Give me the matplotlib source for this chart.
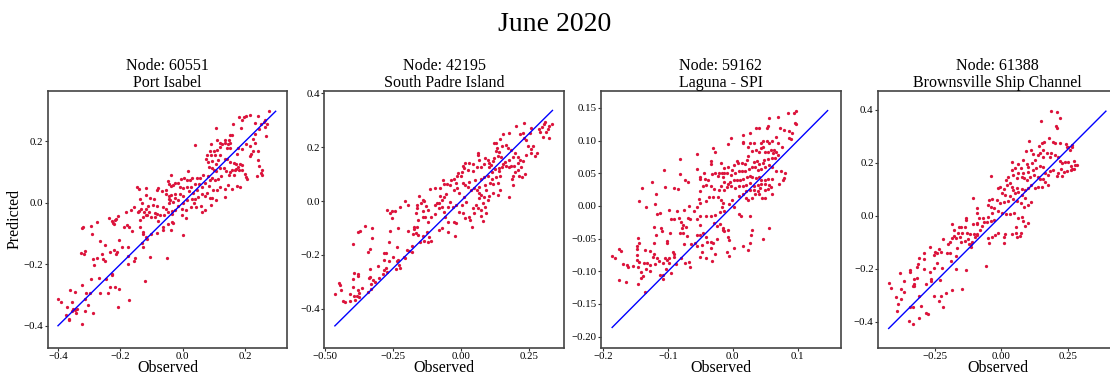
import matplotlib
matplotlib.use('Agg')
import matplotlib.pyplot as plt
from matplotlib.ticker import MultipleLocator

plt.rcParams['font.family'] = ['Liberation Serif', 'DejaVu Serif']

month_title = 'June 2020'
node_ids = ['60551', '42195', '59162', '61388']
node_names = ['Port Isabel', 'South Padre Island', 'Laguna - SPI', 'Brownsville Ship Channel']

# observed / predicted values
obs_60551 = [
    -0.037, -0.047, -0.045, -0.037, -0.147, -0.139, -0.118, -0.083, -0.079, -0.055,
    -0.067, -0.053, -0.045, -0.037, -0.138, -0.118, -0.104, -0.092, -0.043, -0.132,
    -0.112, -0.094, -0.081, -0.063, -0.053, -0.045, -0.040, -0.157, -0.165, -0.183,
    -0.143, -0.134, -0.118, -0.124, -0.108, -0.088, -0.082, -0.073, -0.061, -0.047,
    -0.035, -0.236, -0.206, -0.213, -0.216, -0.224, -0.226, -0.219, -0.179, -0.172,
    -0.189, -0.163, -0.140, -0.137, -0.126, -0.119, -0.113, -0.101, -0.088, -0.079,
    -0.064, -0.062, -0.047, -0.039, -0.035, -0.136, -0.128, -0.126, -0.119, -0.113,
    -0.103, -0.084, -0.320, -0.322, -0.293, -0.275, -0.292, -0.266, -0.250, -0.203,
    -0.132, -0.126, -0.219, -0.196, -0.175, -0.210, -0.232, -0.258, -0.215, -0.312,
    -0.325, -0.316, -0.176, -0.153, -0.104, -0.050, -0.288, -0.275, -0.256, -0.250,
    -0.157, -0.176, -0.283, -0.226, -0.228, -0.294, -0.268, -0.245, -0.120, -0.323,
    -0.360, -0.344, -0.309, -0.298, -0.264, -0.234, -0.218, -0.203, -0.239, -0.312,
    -0.400, -0.389, -0.355, -0.305, -0.371, -0.353, -0.345, -0.339, -0.356, -0.341,
    -0.172, -0.207, -0.313, -0.287, -0.375, -0.366, -0.364, -0.323,
    0.278, 0.203, 0.216, 0.198, 0.241, 0.181, 0.191, 0.264, 0.260, 0.250,
    0.233, 0.270, 0.160, 0.106, 0.186, 0.264, 0.246, 0.232, 0.267, 0.159,
    0.150, 0.147, 0.134, 0.110, 0.092, 0.121, 0.126, 0.134, 0.145, 0.152,
    0.224, 0.232, 0.039, 0.203, 0.216, 0.225, 0.240, 0.218, 0.217, 0.191,
    0.176, 0.173, 0.150, 0.141, 0.120, 0.111, 0.099, 0.087, 0.077, 0.074,
    0.090, 0.102, 0.120, 0.136, 0.142, 0.153, 0.163, 0.171, 0.176, 0.185,
    0.190, 0.181, 0.168, 0.157, 0.153, 0.163, 0.172, 0.189, 0.200, 0.203,
    0.207, 0.240, 0.245, 0.253, 0.252, 0.253, 0.239, 0.114, 0.106, 0.094,
    0.080, 0.084, 0.095, 0.099, 0.108, 0.120, 0.132, 0.140, 0.147, 0.123,
    0.114, 0.104, 0.094, 0.086, 0.081, 0.064, 0.056, 0.046, 0.031, 0.024,
    0.013, 0.004, -0.005, 0.018, -0.014, -0.025, -0.030, -0.010, 0.000, 0.015,
    0.028, 0.040, 0.053, 0.063, 0.072, 0.083, 0.096, 0.109, 0.120, 0.137,
    0.145, 0.157, 0.173, 0.184, -0.026, -0.010, 0.002, 0.019, 0.033, 0.047,
    0.061, 0.072, 0.086, 0.095, 0.078, 0.049, 0.040, 0.029, 0.015, 0.002,
    -0.014, -0.025, -0.032, -0.016, -0.001, 0.010, 0.027, 0.043, 0.057, 0.061,
    0.073, 0.090, 0.107, 0.136, 0.037, -0.025, -0.033, -0.003, 0.009, -0.030,
    0.000,
]
pred_60551 = [
    0.092, 0.072, 0.060, 0.054, 0.053, 0.046, 0.048, 0.043, 0.047, 0.043,
    0.037, 0.030, 0.022, 0.025, 0.012, 0.027, 0.017, 0.011, 0.011, -0.002,
    -0.011, -0.007, -0.011, -0.015, -0.021, -0.002, 0.009, -0.015, -0.024, -0.030,
    -0.029, -0.021, -0.021, -0.031, -0.031, -0.034, -0.035, -0.040, -0.040, -0.031,
    -0.026, -0.048, -0.043, -0.051, -0.056, -0.065, -0.059, -0.069, -0.073, -0.078,
    -0.080, -0.092, -0.027, -0.056, -0.046, -0.040, -0.040, -0.047, -0.047, -0.060,
    -0.078, -0.089, -0.069, -0.089, -0.062, -0.080, -0.094, -0.102, -0.111, -0.118,
    -0.100, -0.098, -0.078, -0.083, -0.076, -0.063, -0.100, -0.124, -0.136, -0.120,
    -0.132, -0.145, -0.152, -0.145, -0.143, -0.159, -0.160, -0.165, -0.168, -0.156,
    -0.162, -0.167, -0.172, -0.178, -0.175, -0.181, -0.182, -0.181, -0.182, -0.189,
    -0.190, -0.199, -0.203, -0.232, -0.236, -0.247, -0.246, -0.249, -0.256, -0.268,
    -0.284, -0.291, -0.292, -0.292, -0.293, -0.273, -0.274, -0.282, -0.295, -0.313,
    -0.314, -0.322, -0.324, -0.333, -0.340, -0.347, -0.349, -0.346, -0.352, -0.358,
    -0.317, -0.338, -0.353, -0.357, -0.365, -0.382, -0.379, -0.395,
    0.298, 0.284, 0.287, 0.280, 0.284, 0.280, 0.271, 0.271, 0.263, 0.258,
    0.260, 0.255, 0.258, 0.245, 0.243, 0.247, 0.241, 0.225, 0.217, 0.220,
    0.221, 0.206, 0.206, 0.206, 0.193, 0.195, 0.193, 0.195, 0.190, 0.196,
    0.209, 0.194, 0.188, 0.193, 0.184, 0.168, 0.169, 0.160, 0.152, 0.175,
    0.179, 0.160, 0.177, 0.177, 0.182, 0.173, 0.169, 0.170, 0.157, 0.144,
    0.155, 0.157, 0.155, 0.144, 0.142, 0.134, 0.130, 0.126, 0.118, 0.126,
    0.122, 0.108, 0.106, 0.106, 0.099, 0.092, 0.109, 0.108, 0.095, 0.085,
    0.076, 0.139, 0.119, 0.106, 0.098, 0.090, 0.088, 0.139, 0.128, 0.136,
    0.133, 0.117, 0.112, 0.106, 0.103, 0.114, 0.115, 0.103, 0.092, 0.087,
    0.079, 0.074, 0.082, 0.074, 0.087, 0.090, 0.082, 0.082, 0.082, 0.074,
    0.074, 0.082, 0.076, 0.104, 0.065, 0.065, 0.057, 0.052, 0.047, 0.052,
    0.052, 0.061, 0.061, 0.052, 0.063, 0.054, 0.043, 0.041, 0.052, 0.046,
    0.059, 0.046, 0.054, 0.050, 0.030, 0.028, 0.022, 0.039, 0.033, 0.041,
    0.030, 0.022, 0.017, 0.017, 0.033, 0.020, 0.014, 0.011, 0.009, -0.002,
    0.009, 0.017, 0.003, -0.011, -0.020, -0.022, -0.013, -0.015, -0.011, -0.029,
    -0.024, -0.008, 0.009, 0.020, 0.000, -0.024, -0.037, -0.038, -0.049, -0.065,
    -0.105,
]

obs_42195 = [
    -0.066, -0.061, -0.051, -0.078, -0.097, -0.115, -0.153, -0.139, -0.135, -0.206,
    -0.196, -0.224, -0.163, -0.162, -0.146, -0.127, -0.122, -0.139, -0.094, -0.088,
    -0.080, -0.069, -0.071, -0.082, -0.076, -0.064, -0.054, -0.049, -0.061, -0.272,
    -0.262, -0.253, -0.244, -0.253, -0.165, -0.141, -0.131, -0.110, -0.158, -0.121,
    -0.097, -0.058, -0.046, -0.351, -0.325, -0.377, -0.370, -0.232, -0.259, -0.195,
    -0.171, -0.162, -0.174, -0.166, -0.176, -0.158, -0.139, -0.125, -0.116, -0.110,
    -0.121, -0.135, -0.150, -0.082, -0.071, -0.049, -0.325, -0.396, -0.333, -0.340,
    -0.281, -0.274, -0.264, -0.236, -0.180, -0.191, -0.199, -0.181, -0.208, -0.206,
    -0.250, -0.264, -0.283, -0.231, -0.236, -0.223, -0.228, -0.240, -0.306, -0.335,
    -0.392, -0.378, -0.377, -0.284, -0.274, -0.273, -0.288, -0.302, -0.323, -0.339,
    -0.335, -0.398, -0.362, -0.378, -0.376, -0.395, -0.448, -0.445, -0.439, -0.463,
    -0.330, -0.329, -0.316, -0.341, -0.394, -0.383, -0.373, -0.390, -0.406, -0.432,
    -0.427, -0.408,
    0.310, 0.336, 0.325, 0.319, 0.306, 0.297, 0.288, 0.291, 0.312, 0.322,
    0.300, 0.231, 0.201, 0.257, 0.252, 0.226, 0.230, 0.218, 0.239, 0.248,
    0.266, 0.257, 0.280, 0.273, 0.257, 0.239, 0.226, 0.217, 0.177, 0.155,
    0.143, 0.120, 0.127, 0.150, 0.165, 0.173, 0.184, 0.198, 0.208, 0.190,
    0.177, 0.163, 0.153, 0.141, 0.150, 0.165, 0.175, 0.184, 0.196, 0.210,
    0.221, 0.208, 0.199, 0.192, 0.212, 0.223, 0.236, 0.186, 0.192, 0.177,
    0.132, 0.128, 0.141, 0.135, 0.147, 0.122, 0.116, 0.110, 0.098, 0.102,
    0.087, 0.067, 0.061, 0.064, 0.045, 0.031, 0.016, 0.006, 0.012, -0.012,
    -0.015, 0.004, 0.024, 0.043, 0.058, 0.073, 0.086, 0.104, 0.114, 0.126,
    0.138, 0.143, 0.128, 0.114, 0.108, 0.116, 0.135, 0.143, 0.135, 0.116,
    0.104, 0.098, 0.086, 0.073, 0.065, 0.058, 0.067, 0.049, 0.037, 0.024,
    0.016, 0.031, 0.053, 0.073, 0.086, 0.100, 0.089, 0.092, -0.040, -0.024,
    -0.015, -0.006, 0.010, 0.018, 0.004, -0.018, -0.040, -0.031, -0.009, 0.009,
    0.031, 0.045, 0.055, 0.067, 0.080, 0.088, 0.073, 0.061, 0.073, 0.080,
    0.092, 0.049, 0.013, 0.034, 0.040, -0.024, -0.018, -0.021, -0.018, -0.024,
    -0.037, 0.000, 0.006,
]
pred_42195 = [
    0.078, 0.062, 0.062, 0.047, 0.047, 0.045, 0.019, 0.004, 0.000, 0.000,
    -0.016, -0.023, -0.015, -0.027, -0.006, -0.019, -0.033, -0.036, -0.015, -0.009,
    -0.009, 0.004, -0.021, -0.025, 0.019, 0.014, 0.026, -0.021, -0.040, -0.033,
    -0.043, -0.036, -0.036, -0.062, -0.043, -0.058, -0.058, -0.061, -0.070, -0.077,
    -0.049, -0.058, -0.077, -0.093, -0.099, -0.114, -0.111, -0.099, -0.110, -0.110,
    -0.098, -0.098, -0.105, -0.117, -0.122, -0.127, -0.130, -0.114, -0.132, -0.147,
    -0.151, -0.147, -0.151, -0.108, -0.100, -0.114, -0.138, -0.158, -0.178, -0.190,
    -0.192, -0.194, -0.151, -0.169, -0.166, -0.185, -0.183, -0.188, -0.206, -0.213,
    -0.206, -0.221, -0.219, -0.219, -0.221, -0.250, -0.237, -0.251, -0.240, -0.252,
    -0.267, -0.270, -0.278, -0.256, -0.250, -0.262, -0.272, -0.287, -0.293, -0.287,
    -0.281, -0.291, -0.321, -0.330, -0.340, -0.318, -0.305, -0.312, -0.330, -0.343,
    -0.308, -0.328, -0.300, -0.336, -0.351, -0.351, -0.355, -0.367, -0.370, -0.370,
    -0.376, -0.343,
    0.294, 0.284, 0.278, 0.266, 0.284, 0.276, 0.266, 0.257, 0.257, 0.235,
    0.239, 0.288, 0.278, 0.272, 0.253, 0.251, 0.232, 0.247, 0.226, 0.204,
    0.204, 0.192, 0.179, 0.167, 0.177, 0.171, 0.148, 0.152, 0.253, 0.249,
    0.229, 0.216, 0.216, 0.204, 0.208, 0.195, 0.189, 0.177, 0.164, 0.164,
    0.152, 0.146, 0.137, 0.121, 0.125, 0.130, 0.127, 0.131, 0.130, 0.142,
    0.125, 0.115, 0.106, 0.093, 0.093, 0.088, 0.100, 0.080, 0.059, 0.014,
    0.198, 0.187, 0.183, 0.167, 0.164, 0.158, 0.147, 0.134, 0.152, 0.142,
    0.158, 0.152, 0.171, 0.177, 0.137, 0.142, 0.140, 0.130, 0.121, 0.103,
    0.093, 0.109, 0.115, 0.113, 0.127, 0.127, 0.137, 0.127, 0.109, 0.117,
    0.111, 0.093, 0.090, 0.080, 0.066, 0.063, 0.066, 0.041, 0.022, 0.028,
    0.019, 0.004, 0.014, 0.022, 0.053, 0.041, 0.031, 0.047, 0.041, 0.053,
    0.059, 0.072, 0.078, 0.080, 0.090, 0.093, 0.059, 0.041, 0.059, 0.041,
    0.047, 0.028, 0.016, -0.002, -0.015, -0.015, -0.002, -0.021, -0.040, -0.046,
    -0.058, -0.027, -0.015, 0.010, -0.009, -0.021, -0.033, -0.027, -0.056, -0.074,
    -0.043, -0.046, -0.064, -0.070, -0.095, -0.077, -0.083, -0.129, 0.066, 0.080,
    0.078, 0.093, 0.066,
]

obs_59162 = [
    -0.031, -0.027, -0.056, -0.082, -0.034, -0.033, -0.018, -0.014, -0.056, -0.106,
    -0.045, -0.032, -0.027, -0.021, -0.023, -0.017, -0.013, -0.051, -0.050, -0.081,
    -0.074, -0.069, -0.015, -0.014, -0.039, -0.043, -0.125, -0.140, -0.105, -0.091,
    -0.084, -0.051, -0.046, -0.041, -0.034, -0.029, -0.021, -0.018, -0.013, -0.118,
    -0.145, -0.134, -0.120, -0.099, -0.086, -0.075, -0.068, -0.056, -0.052, -0.050,
    -0.041, -0.036, -0.030, -0.023, -0.018, -0.015, -0.060, -0.051, -0.042, -0.034,
    -0.027, -0.020, -0.016, -0.014, -0.095, -0.091, -0.117, -0.113, -0.083, -0.069,
    -0.066, -0.080, -0.077, -0.079, -0.072, -0.056, -0.051, -0.029, -0.025, -0.020,
    -0.015, -0.013, -0.121, -0.111, -0.109, -0.118, -0.146, -0.144, -0.148, -0.148,
    -0.121, -0.102, -0.102, -0.097, -0.081, -0.077, -0.070, -0.075, -0.064, -0.059,
    -0.056, -0.048, -0.055, -0.050, -0.046, -0.042, -0.040, -0.034, -0.031, -0.033,
    -0.027, -0.024, -0.050, -0.042, -0.048, -0.176, -0.172, -0.186, -0.182, -0.147,
    -0.136, -0.127, -0.122, -0.123, -0.117, -0.092, -0.090, -0.090, -0.080, -0.074,
    -0.067, -0.066, -0.099, -0.098, -0.101, -0.105, -0.108, -0.114, -0.120, -0.128,
    -0.132, -0.137, -0.144, -0.148, -0.163, -0.169, -0.161, -0.154, -0.146, -0.142,
    -0.134, -0.128, -0.095, -0.088, -0.103, -0.107, -0.113, -0.108, -0.138, -0.142,
    -0.146, -0.176, -0.164, -0.135, -0.032, -0.015,
    0.098, 0.094, 0.085, 0.098, 0.095, 0.070, 0.056, 0.054, 0.052, 0.072,
    0.079, 0.086, 0.091, 0.087, 0.090, 0.036, 0.041, 0.027, 0.016, 0.016,
    0.015, 0.027, 0.033, 0.046, 0.044, 0.052, 0.055, 0.060, 0.067, 0.070,
    0.076, -0.003, -0.008, 0.023, 0.029, 0.036, 0.040, 0.043, 0.047, 0.050,
    0.054, 0.058, 0.062, 0.063, 0.067, 0.069, 0.065, 0.060, 0.054, 0.048,
    0.046, 0.041, 0.037, 0.032, 0.024, 0.022, 0.019, 0.014, 0.008, 0.006,
    0.001, -0.007, -0.002, -0.009, -0.003, 0.004, 0.009, 0.014, 0.019, 0.025,
    0.029, 0.034, 0.039, 0.044, 0.050, 0.055, 0.060, 0.066, 0.074, 0.081,
    0.079, 0.077, 0.071, 0.060, 0.054, 0.050, 0.044, 0.041, 0.036, 0.030,
    0.027, 0.022, 0.016, 0.011, 0.006, 0.001, -0.004, -0.008, -0.009, -0.003,
    0.004, 0.010, 0.015, 0.020, 0.027, 0.032, 0.039, 0.044, 0.049, 0.055,
    0.058, 0.054, 0.049, 0.042, 0.039, 0.033, 0.027, 0.020, 0.015, 0.010,
    0.020, 0.023, 0.029, 0.034, 0.041, 0.045, 0.050, 0.060, -0.001, -0.006,
    0.001, 0.009, 0.013, 0.027, 0.055, 0.029, 0.028, 0.046, 0.027, 0.015,
    0.001, -0.009, -0.006, 0.024, -0.008, -0.007, -0.006,
]
pred_59162 = [
    0.088, 0.082, 0.080, 0.072, 0.069, 0.064, 0.066, 0.058, 0.057, 0.055,
    0.050, 0.049, 0.050, 0.050, 0.046, 0.051, 0.050, 0.044, 0.041, 0.049,
    0.039, 0.036, 0.044, 0.037, 0.040, 0.042, 0.036, 0.027, 0.029, 0.027,
    0.026, 0.023, 0.030, 0.032, 0.030, 0.026, 0.025, 0.030, 0.025, 0.018,
    0.008, -0.001, 0.003, -0.006, -0.008, -0.006, 0.000, -0.001, 0.011, 0.005,
    0.008, 0.013, 0.013, 0.013, 0.009, 0.004, -0.007, -0.015, -0.015, -0.016,
    -0.014, -0.010, -0.002, -0.007, -0.020, -0.020, -0.013, -0.011, -0.019, -0.018,
    -0.020, -0.024, -0.029, -0.033, -0.032, -0.020, -0.029, -0.026, -0.031, -0.027,
    -0.034, -0.038, -0.032, -0.033, -0.038, -0.045, -0.049, -0.056, -0.061, -0.066,
    -0.057, -0.056, -0.053, -0.042, -0.042, -0.041, -0.046, -0.058, -0.058, -0.057,
    -0.062, -0.060, -0.044, -0.045, -0.041, -0.047, -0.055, -0.055, -0.056, -0.065,
    -0.074, -0.050, -0.078, -0.079, -0.070, -0.066, -0.069, -0.076, -0.079, -0.075,
    -0.068, -0.069, -0.074, -0.078, -0.079, -0.070, -0.074, -0.078, -0.080, -0.087,
    -0.086, -0.093, -0.080, -0.087, -0.083, -0.079, -0.087, -0.085, -0.089, -0.090,
    -0.087, -0.088, -0.086, -0.082, -0.090, -0.089, -0.094, -0.092, -0.094, -0.101,
    -0.097, -0.099, -0.102, -0.089, -0.097, -0.106, -0.106, -0.112, -0.107, -0.110,
    -0.120, -0.113, -0.116, -0.131, -0.085, -0.037,
    0.146, 0.142, 0.142, 0.126, 0.127, 0.136, 0.134, 0.122, 0.120, 0.119,
    0.116, 0.115, 0.112, 0.104, 0.102, 0.120, 0.120, 0.111, 0.108, 0.098,
    0.096, 0.096, 0.097, 0.100, 0.096, 0.099, 0.097, 0.099, 0.105, 0.097,
    0.090, 0.104, 0.095, 0.090, 0.084, 0.086, 0.082, 0.088, 0.090, 0.083,
    0.082, 0.085, 0.081, 0.086, 0.082, 0.078, 0.073, 0.073, 0.072, 0.070,
    0.066, 0.065, 0.069, 0.068, 0.076, 0.070, 0.064, 0.066, 0.066, 0.069,
    0.063, 0.059, 0.055, 0.051, 0.047, 0.050, 0.053, 0.054, 0.053, 0.056,
    0.060, 0.059, 0.055, 0.057, 0.059, 0.062, 0.060, 0.053, 0.053, 0.050,
    0.043, 0.039, 0.033, 0.042, 0.042, 0.040, 0.039, 0.044, 0.043, 0.044,
    0.046, 0.044, 0.042, 0.040, 0.040, 0.040, 0.037, 0.034, 0.029, 0.030,
    0.028, 0.031, 0.031, 0.032, 0.035, 0.031, 0.032, 0.033, 0.034, 0.032,
    0.029, 0.026, 0.025, 0.027, 0.023, 0.025, 0.025, 0.023, 0.018, 0.015,
    0.012, 0.009, 0.012, 0.019, 0.018, 0.012, 0.012, 0.019, 0.009, 0.003,
    -0.002, -0.012, -0.015, -0.015, -0.033, -0.037, -0.045, -0.050, -0.057, -0.062,
    -0.065, -0.070, -0.076, -0.068, -0.037, -0.047, -0.052,
]

obs_61388 = [
    -0.108, -0.092, -0.092, -0.133, -0.132, -0.139, -0.152, -0.161, -0.187, -0.177,
    -0.163, -0.148, -0.129, -0.119, -0.108, -0.093, -0.084, -0.069, -0.067, -0.073,
    -0.079, -0.092, -0.098, -0.104, -0.155, -0.170, -0.186, -0.180, -0.192, -0.202,
    -0.222, -0.236, -0.227, -0.242, -0.255, -0.271, -0.249, -0.293, -0.312, -0.293,
    -0.315, -0.318, -0.344, -0.345, -0.383, -0.369, -0.366, -0.377, -0.396, -0.389,
    -0.377, -0.425, -0.415, -0.329, -0.317, -0.330, -0.335, -0.328, -0.285, -0.265,
    -0.266, -0.293, -0.271, -0.253, -0.242, -0.224, -0.205, -0.192, -0.166, -0.173,
    -0.190, -0.171, -0.133, -0.149, -0.188, -0.209, -0.227, -0.221, -0.235, -0.253,
    -0.312, -0.302, -0.334, -0.345, -0.392, -0.348, -0.335, -0.309, -0.286, -0.278,
    -0.230, -0.116, -0.152, -0.139, -0.126, -0.124, -0.114, -0.109, -0.092, -0.092,
    0.186, 0.210, 0.222, 0.149, 0.207, 0.209, 0.104, 0.180, 0.162, 0.152,
    0.142, 0.155, 0.196, 0.202, 0.221, 0.244, 0.246, 0.253, 0.268, 0.265,
    0.259, 0.092, 0.112, 0.121, 0.139, 0.146, 0.158, 0.171, 0.183, 0.187,
    0.202, 0.212, 0.221, 0.230, 0.240, 0.250, 0.263, 0.268, 0.278, 0.284,
    0.275, 0.274, 0.263, 0.246, 0.236, 0.225, 0.227, 0.215, 0.209, 0.196,
    0.185, 0.177, 0.165, 0.158, 0.146, 0.129, 0.118, 0.102, 0.099, 0.083,
    0.077, 0.085, 0.095, 0.108, 0.124, 0.137, 0.146, 0.155, 0.165, 0.175,
    0.152, 0.139, 0.127, 0.112, 0.099, 0.089, 0.077, 0.058, 0.045, 0.039,
    0.033, 0.041, 0.039, 0.020, 0.008, -0.005, -0.011, 0.001, 0.014, 0.033,
    0.052, 0.064, 0.077, 0.089, 0.111, 0.102, 0.087, 0.074, 0.058, 0.045,
    0.026, 0.008, -0.005, -0.018, -0.034, -0.046, -0.052, -0.039, -0.026, -0.014,
    0.001, 0.016, 0.033, 0.049, 0.064, 0.077, 0.083, 0.102, 0.089, 0.054,
    0.054, 0.070, 0.074, 0.058, 0.039, 0.014, 0.008, -0.011, -0.024, -0.036,
    -0.052, -0.046, 0.008, -0.026, -0.039, -0.055, -0.049, -0.034, -0.040, -0.059,
    0.018, 0.026, 0.045, 0.058, 0.064, 0.074, 0.052, 0.064, 0.117, 0.127,
    0.083, 0.095,
]
pred_61388 = [
    0.065, 0.028, 0.011, -0.010, -0.016, -0.041, -0.041, -0.044, -0.031, -0.054,
    -0.067, -0.067, -0.064, -0.069, -0.031, -0.033, -0.010, -0.010, -0.023, -0.039,
    -0.054, -0.069, -0.082, -0.069, -0.082, -0.085, -0.085, -0.077, -0.098, -0.107,
    -0.088, -0.127, -0.136, -0.142, -0.149, -0.118, -0.138, -0.141, -0.161, -0.165,
    -0.183, -0.195, -0.205, -0.211, -0.217, -0.247, -0.286, -0.275, -0.305, -0.333,
    -0.314, -0.255, -0.273, -0.237, -0.236, -0.258, -0.265, -0.264, -0.258, -0.240,
    -0.247, -0.202, -0.211, -0.198, -0.177, -0.198, -0.139, -0.139, -0.121, -0.152,
    -0.170, -0.202, -0.205, -0.278, -0.280, -0.290, -0.302, -0.343, -0.322, -0.302,
    -0.303, -0.340, -0.345, -0.343, -0.359, -0.397, -0.410, -0.387, -0.368, -0.371,
    -0.242, -0.107, -0.098, -0.095, -0.089, -0.107, -0.119, -0.098, -0.026, -0.073,
    0.394, 0.392, 0.369, 0.358, 0.338, 0.329, 0.283, 0.291, 0.279, 0.273,
    0.263, 0.247, 0.279, 0.273, 0.273, 0.270, 0.260, 0.258, 0.266, 0.258,
    0.247, 0.242, 0.247, 0.232, 0.229, 0.235, 0.222, 0.235, 0.222, 0.237,
    0.229, 0.222, 0.207, 0.200, 0.204, 0.204, 0.187, 0.175, 0.191, 0.191,
    0.207, 0.175, 0.172, 0.168, 0.166, 0.175, 0.149, 0.162, 0.149, 0.172,
    0.167, 0.153, 0.162, 0.182, 0.187, 0.178, 0.172, 0.185, 0.166, 0.162,
    0.147, 0.141, 0.134, 0.144, 0.153, 0.144, 0.137, 0.137, 0.128, 0.116,
    0.109, 0.107, 0.103, 0.116, 0.103, 0.097, 0.099, 0.103, 0.097, 0.109,
    0.124, 0.204, 0.172, 0.116, 0.099, 0.109, 0.103, 0.084, 0.078, 0.074,
    0.084, 0.090, 0.078, 0.065, 0.053, 0.040, 0.034, 0.046, 0.057, 0.062,
    0.057, 0.053, 0.049, 0.059, 0.062, 0.059, 0.040, 0.034, 0.028, 0.019,
    0.011, 0.006, 0.006, 0.011, -0.008, -0.004, -0.019, -0.029, -0.039, -0.041,
    -0.067, -0.075, -0.064, -0.079, -0.069, -0.070, -0.079, -0.067, -0.073, -0.079,
    -0.083, -0.104, -0.104, -0.016, -0.019, -0.023, -0.004, 0.009, 0.151, -0.190,
    0.134, 0.147, 0.153, 0.141, 0.160, 0.178, 0.178, 0.195, 0.200, 0.210,
    0.210, 0.195,
]

observed = [obs_60551, obs_42195, obs_59162, obs_61388]
predicted = [pred_60551, pred_42195, pred_59162, pred_61388]

# view window and tick spacing of each panel
x_limits = [(-0.433, 0.335), (-0.5015, 0.378), (-0.203, 0.166), (-0.466, 0.437)]
y_limits = [(-0.4715, 0.364), (-0.544, 0.408), (-0.217, 0.176), (-0.4975, 0.470)]
x_steps = [0.2, 0.25, 0.1, 0.25]
y_steps = [0.2, 0.2, 0.05, 0.2]


fig = plt.figure(figsize=(11.1, 3.74), dpi=100)

ax_w = 239.5 / 1110
ax_h = (347.7 - 91) / 374
ax_bottom = (374 - 347.7) / 374

for i in range(4):
    left = (47.7 + 276.7 * i) / 1110
    ax = fig.add_axes([left, ax_bottom, ax_w, ax_h])

    obs = observed[i]
    pred = predicted[i]
    ax.scatter(obs, pred, s=5.5, color='crimson', linewidths=0, zorder=2)

    # 1:1 reference line over the full span of the data
    lo = min(min(obs), min(pred))
    hi = max(max(obs), max(pred))
    ax.plot([lo, hi], [lo, hi], color='blue', linewidth=1.0, zorder=3)

    ax.set_xlim(*x_limits[i])
    ax.set_ylim(*y_limits[i])
    ax.xaxis.set_major_locator(MultipleLocator(x_steps[i]))
    ax.yaxis.set_major_locator(MultipleLocator(y_steps[i]))

    ax.set_title(f'Node: {node_ids[i]}\n{node_names[i]}', fontsize=11.5, pad=1.5,
                 linespacing=1.1)
    ax.set_xlabel('Observed', fontsize=11.5, labelpad=-0.8)
    if i == 0:
        ax.set_ylabel('Predicted', fontsize=11.5, labelpad=1)

    ax.tick_params(labelsize=7.8, length=2, width=0.8, pad=1, color='#333333')
    for sp in ax.spines.values():
        sp.set_color('#444444')
        sp.set_linewidth(1.2)

fig.suptitle(month_title, fontsize=20, y=0.969, va='top')

fig.savefig('out.png', dpi=100)
